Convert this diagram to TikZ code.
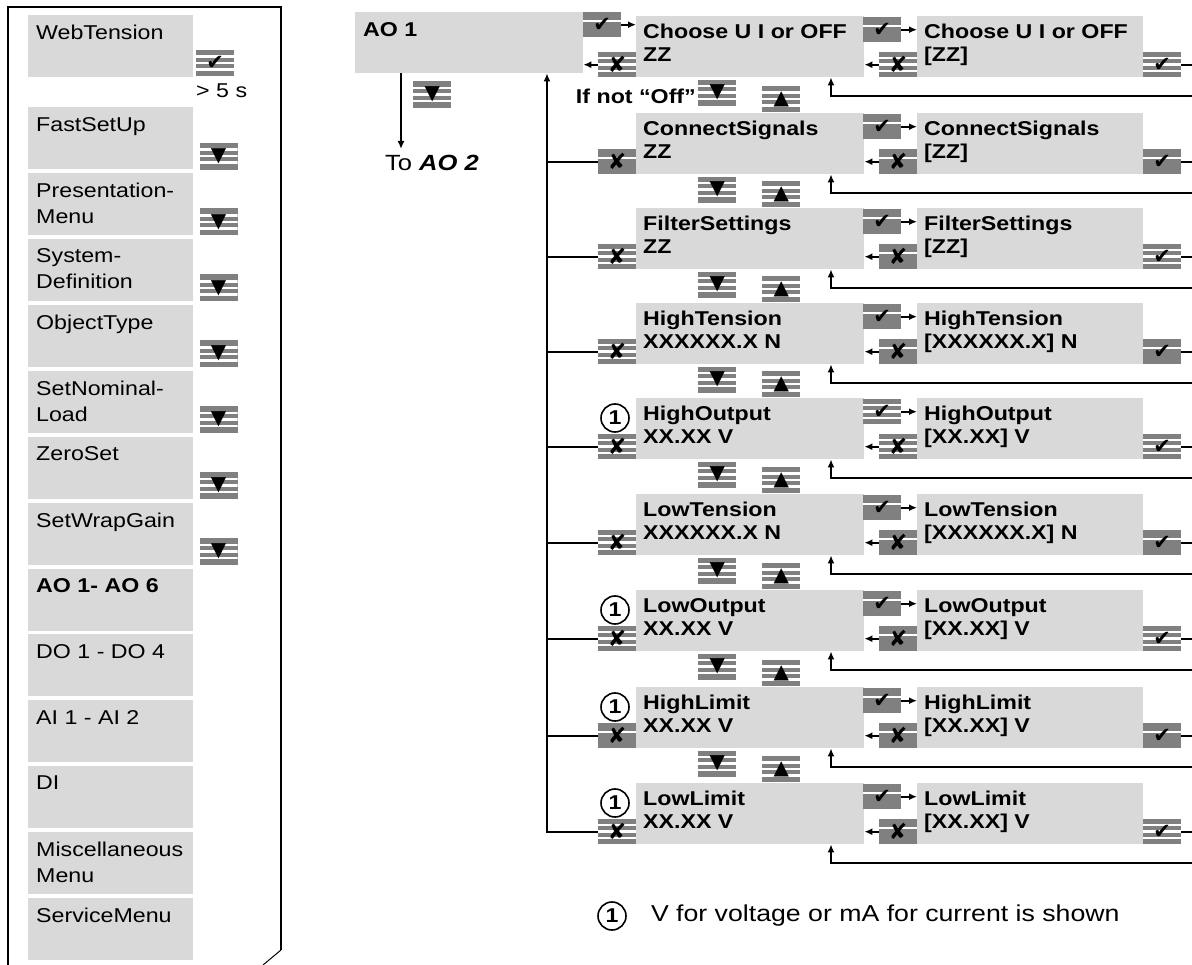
\documentclass[tikz,border=0pt]{standalone}
\usepackage{fontspec}
\setmainfont{Liberation Sans}[FakeStretch=1.16]
\newfontfamily\symfont{DejaVu Sans}
\usetikzlibrary{arrows.meta,positioning}
\definecolor{boxgray}{HTML}{D9D9D9}
\definecolor{keygray}{HTML}{808080}

\newcommand{\keyok}{{\symfont\fontsize{21}{21}\selectfont ✔}}
\newcommand{\keyno}{{\symfont\fontsize{22}{22}\selectfont ✘}}
\newcommand{\keydn}{{\symfont\fontsize{20}{20}\selectfont ▼}}
\newcommand{\keyup}{{\symfont\fontsize{20}{20}\selectfont ▲}}

\begin{document}
\begin{tikzpicture}[x=1pt, y=-1pt,
  menu/.style={fill=boxgray, minimum width=165pt, minimum height=62pt,
               anchor=north west, inner sep=0},
  mtxt/.style={anchor=north west, inner sep=0, align=left,
               font=\fontsize{20}{26}\selectfont},
  disp/.style={fill=boxgray, minimum width=228pt, minimum height=61pt,
               anchor=north west, inner sep=0},
  dtxt/.style={anchor=north west, inner sep=0, align=left,
               font=\bfseries\fontsize{20}{23}\selectfont},
  key/.style={fill=keygray, minimum width=38pt, minimum height=25pt,
              anchor=north west, inner sep=0},
  stripes/.style={path picture={\foreach \d in {-6.5,0,6.5}
      \draw[white, line width=2.5pt] ([yshift=\d pt]path picture bounding box.west)
        -- ([yshift=\d pt]path picture bounding box.east);}},
  plain/.style={path picture={\draw[white, line width=2pt]
      ([yshift=4pt]path picture bounding box.west)
        -- ([yshift=4pt]path picture bounding box.east);}},
  arr/.style={-{Latex[length=8pt, width=7pt]}, line width=2pt},
  wire/.style={line width=2pt},
  circ/.style={circle, draw, line width=1.6pt, minimum size=28pt, inner sep=0,
               font=\bfseries\fontsize{20}{20}\selectfont},
]
  \useasboundingbox (0,0) rectangle (1192,965);

  % left menu panel
  \draw[line width=2pt] (8,965) -- (8,7) -- (281,7) -- (281,950);
  \draw[line width=1pt] (281,950) -- (263,965);

  \node[menu] (web) at (28,15) {};
  \node[mtxt] (webt) at ([shift={(8,10)}]web.north west) {WebTension};
  \node[key, stripes, minimum height=26pt] (webok) at (196,50) {\keyok};
  \node[mtxt, anchor=west] (web5) at (196,91) {> 5 s};

  \foreach \i/\txt/\hasdn in {0/FastSetUp/1, 1/Presentation-\\Menu/1,
      2/System-\\Definition/1, 3/ObjectType/1, 4/SetNominal-\\Load/1,
      5/ZeroSet/1, 6/SetWrapGain/1, 7/\textbf{AO 1- AO 6}/0,
      8/DO 1 - DO 4/0, 9/AI 1 - AI 2/0, 10/DI/0,
      11/Miscellaneous\\Menu/0, 12/ServiceMenu/0} {
    \pgfmathsetmacro\ly{107+65.9*\i}
    \node[menu] (l\i) at (28,\ly) {};
    \node[mtxt] (lt\i) at ([shift={(8,10)}]l\i.north west) {\txt};
    \ifnum\hasdn=1
      \node[key, stripes, minimum height=27pt] (ld\i)
        at ([shift={(6,-27)}]l\i.south east) {\keydn};
    \fi
  }

  % AO 1 entry
  \coordinate (busx) at (547,0);
  \coordinate (dnx) at (401,0);
  \coordinate (edge) at (1192,0);
  \node[disp] (ao) at (355,12) {};
  \node[dtxt] (aot) at ([shift={(8,10)}]ao.north west) {AO 1};
  \node[key, plain] (aook) at (583,12) {\keyok};
  \node[key, stripes, minimum height=27pt] (aodn) at (413,81) {\keydn};
  \node[anchor=north west, inner sep=0, font=\fontsize{22}{22}\selectfont]
    (to2) at (385,155) {To \textbf{\textit{AO 2}}};
  \draw[arr] (ao.south -| dnx) -- ([yshift=6pt]to2.north -| dnx);

  % parameter rows
  \foreach \n/\ty/\lab/\val/\sval/\ml/\mc/\mx/\mr in {
      1/16/Choose U I or OFF/ZZ/[ZZ]/stripes/plain/stripes/stripes,
      2/113/ConnectSignals/ZZ/[ZZ]/plain/plain/plain/plain,
      3/208/FilterSettings/ZZ/[ZZ]/stripes/plain/plain/stripes,
      4/303/HighTension/XXXXXX.X N/[XXXXXX.X] N/stripes/plain/plain/plain,
      5/398/HighOutput/XX.XX V/[XX.XX] V/stripes/stripes/stripes/stripes,
      6/494/LowTension/XXXXXX.X N/[XXXXXX.X] N/stripes/plain/plain/plain,
      7/590/LowOutput/XX.XX V/[XX.XX] V/stripes/plain/plain/stripes,
      8/687/HighLimit/XX.XX V/[XX.XX] V/plain/plain/plain/plain,
      9/783/LowLimit/XX.XX V/[XX.XX] V/stripes/plain/plain/stripes} {
    \node[disp] (m\n) at (636,\ty) {};
    \node[dtxt] (mt\n) at ([shift={(7,8)}]m\n.north west) {\lab\\{}\val};
    \node[disp, minimum width=226pt] (s\n) at (917,\ty) {};
    \node[dtxt] (st\n) at ([shift={(7,8)}]s\n.north west) {\lab\\{}\sval};
    \node[key, \ml] (xl\n) at (598,\ty+36) {\keyno};
    \node[key, \mc] (cm\n) at (863,\ty+1) {\keyok};
    \node[key, \mx] (xs\n) at (879,\ty+36) {\keyno};
    \node[key, \mr] (cr\n) at (1143,\ty+36) {\keyok};
    \coordinate (rt\n) at (1192,\ty+80);
    \draw[arr] (cm\n.east) -- (cm\n.east -| s\n.west);
    \draw[arr] (xs\n.west) -- (xs\n.west -| m\n.east);
    \draw[wire] (cr\n.east) -- (cr\n.east -| edge);
    \draw[arr] (rt\n) -| ([xshift=195pt]m\n.south west);
    \ifnum\n>1
      \draw[wire] (xl\n.west) -- (xl\n.west -| busx);
    \fi
  }

  \foreach \n in {1,...,8}
    \node[key, stripes, minimum height=26pt] (dn\n)
      at ([shift={(62,2)}]m\n.south west) {\keydn};
  \foreach \n in {2,...,9}
    \node[key, stripes, minimum height=26pt] (up\n)
      at ([shift={(126,-27)}]m\n.north west) {\keyup};
  \foreach \n in {5,7,8,9}
    \node[circ] (one\n) at ([shift={(-21,20)}]m\n.north west) {1};

  \node[dtxt, anchor=east] (ifnot) at ([shift={(-2,4)}]dn1.west) {If not “Off”};

  \draw[arr] (aook.east) -- (aook.east -| m1.west);
  \draw[arr] (xl1.west) -- (xl1.west -| ao.east);
  \draw[arr] (xl9.west) -| (ao.south -| busx);

  % footnote
  \node[circ] (fn) at (612,916) {1};
  \node[right=24pt of fn, inner sep=0, font=\fontsize{23}{23}\selectfont]
    (fntxt) {V for voltage or mA for current is shown};
\end{tikzpicture}
\end{document}
